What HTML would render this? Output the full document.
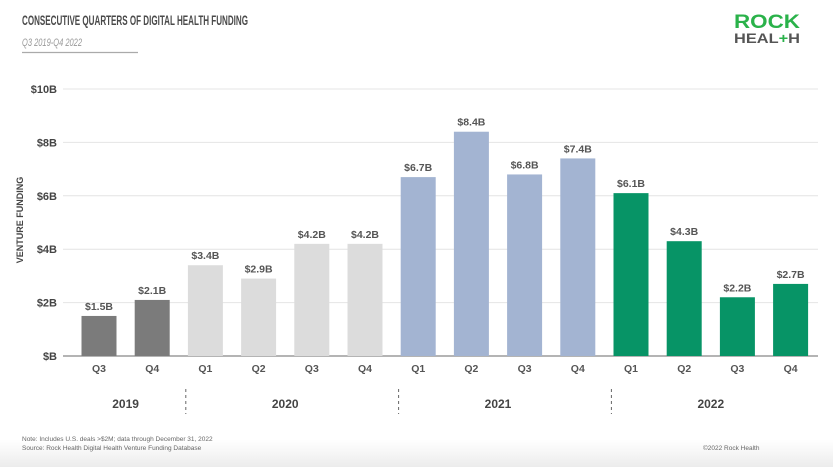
<!DOCTYPE html>
<html><head><meta charset="utf-8"><style>
body{margin:0;background:#fff;font-family:"Liberation Sans",sans-serif}
svg{display:block}
</style></head><body>
<svg width="833" height="467" viewBox="0 0 833 467">
<defs><linearGradient id="ft" x1="0" y1="0" x2="0" y2="1"><stop offset="0" stop-color="#fff"/><stop offset="1" stop-color="#ececec"/></linearGradient></defs>
<rect x="0" y="440" width="833" height="27" fill="url(#ft)"/>
<text x="22" y="25" font-size="13.5" font-weight="bold" fill="#4a4a4a" textLength="226" lengthAdjust="spacingAndGlyphs">CONSECUTIVE QUARTERS OF DIGITAL HEALTH FUNDING</text>
<text x="22" y="46" font-size="11" font-style="italic" fill="#999" textLength="60" lengthAdjust="spacingAndGlyphs">Q3 2019-Q4 2022</text>
<line x1="22" y1="52.5" x2="138" y2="52.5" stroke="#aaa" stroke-width="1.2"/>
<text x="734" y="28" font-size="19" font-weight="bold" fill="#2ab24a" textLength="66" lengthAdjust="spacingAndGlyphs">ROCK</text>
<text x="734" y="43" font-size="14" font-weight="bold" fill="#555" textLength="66" lengthAdjust="spacingAndGlyphs">HEAL<tspan fill="#2ab24a">+</tspan>H</text>
<text transform="translate(23,220) rotate(-90)" font-size="9" font-weight="bold" fill="#444" text-anchor="middle">VENTURE FUNDING</text>
<g id="grid"></g><g id="bars"></g><g id="xl"></g>
<text x="22" y="441" font-size="6.5" fill="#666">Note: Includes U.S. deals &gt;$2M; data through December 31, 2022</text>
<text x="22" y="450" font-size="6.5" fill="#666">Source: Rock Health Digital Health Venture Funding Database</text>
<text x="703" y="450" font-size="6.5" fill="#666">©2022 Rock Health</text>
</svg>
<script>
const quarters=["Q3","Q4","Q1","Q2","Q3","Q4","Q1","Q2","Q3","Q4","Q1","Q2","Q3","Q4"];
const values=[1.5,2.1,3.4,2.9,4.2,4.2,6.7,8.4,6.8,7.4,6.1,4.3,2.2,2.7];
const labels=["$1.5B","$2.1B","$3.4B","$2.9B","$4.2B","$4.2B","$6.7B","$8.4B","$6.8B","$7.4B","$6.1B","$4.3B","$2.2B","$2.7B"];
const years=["2019","2020","2021","2022"];
const yearStart=[0,2,6,10];
const yearEnd=[1,5,9,13];
const yTicks=[0,2,4,6,8,10];
const yTickLabels=["$B","$2B","$4B","$6B","$8B","$10B"];
const colors=["#7b7b7b","#7b7b7b","#dcdcdc","#dcdcdc","#dcdcdc","#dcdcdc","#a3b4d2","#a3b4d2","#a3b4d2","#a3b4d2","#079466","#079466","#079466","#079466"];
const NS="http://www.w3.org/2000/svg";
const y=v=>356-v*26.7;
const x=i=>99+i*53.2;
function mk(p,t,a){const e=document.createElementNS(NS,t);for(const k in a)e.setAttribute(k,a[k]);p.appendChild(e);return e;}
const g=document.getElementById('grid'),b=document.getElementById('bars'),xl=document.getElementById('xl');
yTicks.forEach((v,i)=>{
 const l=mk(g,'line',{x1:63,x2:818,y1:y(v),y2:y(v),stroke:i==0?'#888':'#e4e4e4','stroke-width':i==0?1.2:1});
 
 
 const t=mk(g,'text',{x:57,y:y(v)+4,'font-size':11,'font-weight':'bold',fill:'#444','text-anchor':'end'});t.textContent=yTickLabels[i];
 
 
});
values.forEach((v,i)=>{
 const r=mk(b,'rect',{x:x(i)-17.5,y:y(v),width:35,height:y(0)-y(v),fill:colors[i]});
 
 
 const t=mk(b,'text',{x:x(i),y:y(v)-6,'font-size':10.5,'font-weight':'bold',fill:'#555','text-anchor':'middle'});t.textContent=labels[i];
 
 
 const q=mk(xl,'text',{x:x(i),y:372,'font-size':10.5,'font-weight':'bold',fill:'#555','text-anchor':'middle'});q.textContent=quarters[i];
 
 
});
years.forEach((yr,i)=>{
 const cx=(x(yearStart[i])+x(yearEnd[i]))/2;
 const t=mk(xl,'text',{x:cx,y:408,'font-size':12,'font-weight':'bold',fill:'#444','text-anchor':'middle'});t.textContent=yr;
 
 
 if(i>0){const sx=(x(yearStart[i])+x(yearStart[i]-1))/2+7;
  const d=mk(xl,'line',{x1:sx,x2:sx,y1:389,y2:414,stroke:'#666','stroke-width':1,'stroke-dasharray':'3,3'});
  
  }
});
</script>
</body></html>
